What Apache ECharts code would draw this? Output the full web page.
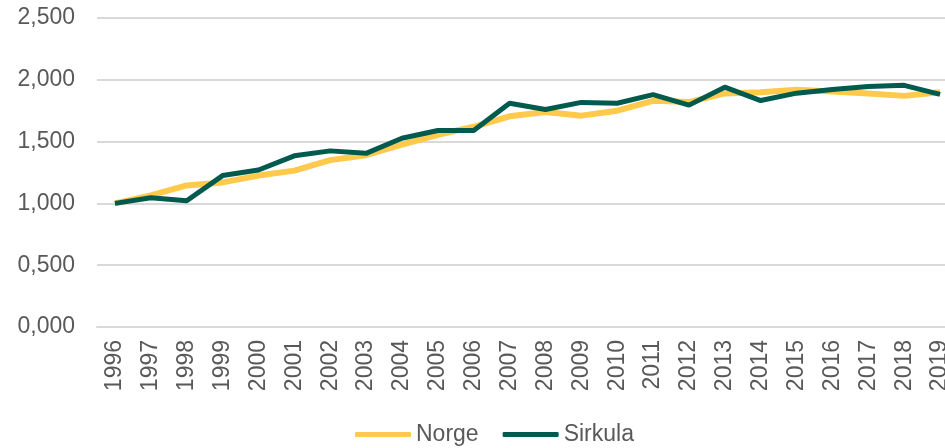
<!DOCTYPE html>
<html>
<head>
<meta charset="utf-8">
<script src="https://cdn.jsdelivr.net/npm/echarts@6/dist/echarts.min.js"></script>
<style>
  html, body { margin: 0; padding: 0; background: #fff; overflow: hidden; }
  #chart { width: 961px; height: 448px; }
</style>
</head>
<body>
<div id="chart"></div>
<script>
const years = ['1996', '1997', '1998', '1999', '2000', '2001', '2002', '2003', '2004', '2005', '2006', '2007',
  '2008', '2009', '2010', '2011', '2012', '2013', '2014', '2015', '2016', '2017', '2018', '2019']

const norge = [1.000, 1.065, 1.145, 1.170, 1.225, 1.265, 1.350, 1.390, 1.475, 1.555, 1.620, 1.705,
  1.740, 1.710, 1.750, 1.830, 1.820, 1.890, 1.900, 1.920, 1.905, 1.890, 1.870, 1.900]

const sirkula = [1.000, 1.045, 1.022, 1.225, 1.270, 1.385, 1.425, 1.405, 1.527, 1.590, 1.590, 1.810,
  1.760, 1.817, 1.810, 1.880, 1.795, 1.940, 1.832, 1.892, 1.922, 1.945, 1.955, 1.882]

const colors = { norge: '#ffc94b', sirkula: '#005a4e' }

// chart div is a bit wider than the window so the last category gets clipped like the original
const chart = echarts.init(document.getElementById('chart'))

chart.setOption({
  animation: false,
  textStyle: { fontFamily: 'Liberation Sans, Arial, sans-serif' },
  grid: {
    left: 97,
    right: 3,
    top: 18,
    bottom: 121
  },
  legend: {
    left: 350,
    top: 418,
    icon: 'roundRect',
    itemWidth: 56,
    itemHeight: 5,
    itemGap: 24,
    textStyle: { fontSize: 23, color: '#595959', fontFamily: 'Liberation Sans, Arial, sans-serif' },
    data: ['Norge', 'Sirkula']
  },
  xAxis: {
    type: 'category',
    data: years,
    boundaryGap: true,
    axisTick: { show: false },
    axisLine: { lineStyle: { color: '#d9d9d9', width: 2 } },
    axisLabel: {
      rotate: 90,
      margin: 13,
      interval: 0,
      fontSize: 23,
      color: '#595959'
    }
  },
  yAxis: {
    type: 'value',
    min: 0,
    max: 2.5,
    interval: 0.5,
    axisLine: { show: false },
    axisTick: { show: false },
    axisLabel: {
      margin: 22,
      fontSize: 23,
      color: '#595959',
      formatter: v => v.toFixed(3).replace('.', ',')
    },
    splitLine: { lineStyle: { color: '#d9d9d9', width: 2 } }
  },
  series: [
    {
      name: 'Norge',
      type: 'line',
      data: norge,
      symbol: 'none',
      lineStyle: { color: colors.norge, width: 6 },
      itemStyle: { color: colors.norge }
    },
    {
      name: 'Sirkula',
      type: 'line',
      data: sirkula,
      symbol: 'none',
      lineStyle: { color: colors.sirkula, width: 5 },
      itemStyle: { color: colors.sirkula }
    }
  ]
})
</script>
</body>
</html>
